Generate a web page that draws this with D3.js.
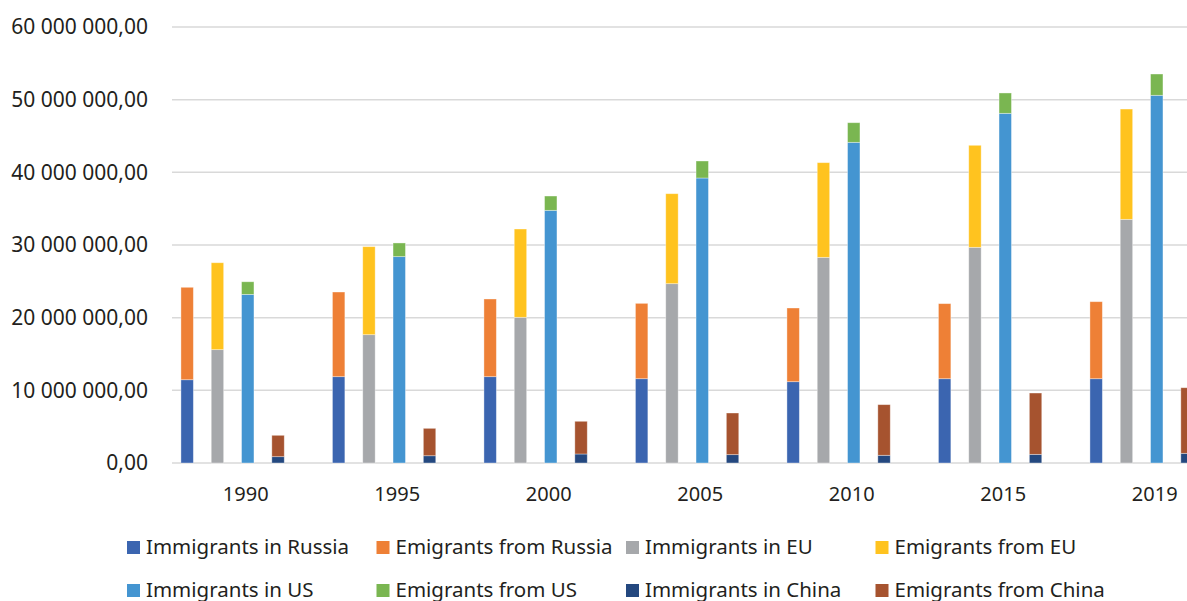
<!DOCTYPE html>
<html>
<head>
<meta charset="utf-8">
<script src="https://cdn.jsdelivr.net/npm/d3@7"></script>
<style>
  html, body { margin: 0; padding: 0; background: #fff; overflow: hidden; }
  svg { display: block; font-family: "Noto Sans", "Open Sans", sans-serif; }
</style>
</head>
<body>
<div id="chart"></div>
<script>
// values
var years = ["1990", "1995", "2000", "2005", "2010", "2015", "2019"];
var regions = ["Russia", "EU", "US", "China"];
var immigrantsRussia = [11460000, 11880000, 11880000, 11600000, 11190000, 11600000, 11600000];
var emigrantsRussia  = [12720000, 11650000, 10690000, 10370000, 10140000, 10330000, 10600000];
var immigrantsEU     = [15600000, 17660000, 20050000, 24680000, 28300000, 29680000, 33530000];
var emigrantsEU      = [11960000, 12110000, 12150000, 12380000, 13030000, 14040000, 15180000];
var immigrantsUS     = [23200000, 28400000, 34770000, 39220000, 44130000, 48120000, 50600000];
var emigrantsUS      = [1740000, 1880000, 1970000, 2340000, 2700000, 2800000, 2930000];
var immigrantsChina  = [870000, 1000000, 1240000, 1150000, 1060000, 1190000, 1330000];
var emigrantsChina   = [2940000, 3770000, 4500000, 5730000, 6970000, 8440000, 9030000];
var yTicks = [0, 10000000, 20000000, 30000000, 40000000, 50000000, 60000000];

var series = [
  {name: "Immigrants in Russia", region: "Russia", part: 0, values: immigrantsRussia, color: "#3b65b0"},
  {name: "Emigrants from Russia", region: "Russia", part: 1, values: emigrantsRussia, color: "#ee8036"},
  {name: "Immigrants in EU", region: "EU", part: 0, values: immigrantsEU, color: "#a6a8ab"},
  {name: "Emigrants from EU", region: "EU", part: 1, values: emigrantsEU, color: "#ffc31f"},
  {name: "Immigrants in US", region: "US", part: 0, values: immigrantsUS, color: "#4495d1"},
  {name: "Emigrants from US", region: "US", part: 1, values: emigrantsUS, color: "#7ab651"},
  {name: "Immigrants in China", region: "China", part: 0, values: immigrantsChina, color: "#24487f"},
  {name: "Emigrants from China", region: "China", part: 1, values: emigrantsChina, color: "#a6532f"}
];

var W = 1187, H = 601;
var svg = d3.select("#chart").append("svg").attr("width", W).attr("height", H);

var plotLeft = 172, step = 151.5;
var y = d3.scaleLinear().domain([0, 60000000]).range([463, 27]);
var x0 = d3.scaleBand().domain(years).range([plotLeft, plotLeft + step * years.length]);
// Excel leaves an empty fifth slot in each group
var x1 = d3.scaleBand().domain(regions.concat(["_"])).range([0, x0.bandwidth()])
  .paddingInner(0.59).paddingOuter(0.295);

var loc = d3.formatLocale({decimal: ",", thousands: " ", grouping: [3], currency: ["", ""]});
var fmt = loc.format(",.2f");

// grid
svg.append("g").selectAll("line").data(yTicks).enter().append("line")
  .attr("x1", plotLeft).attr("x2", W)
  .attr("y1", function(d) { return y(d); }).attr("y2", function(d) { return y(d); })
  .attr("stroke", "#d9d9d9").attr("stroke-width", 1.5);

// y labels
svg.append("g").selectAll("text").data(yTicks).enter().append("text")
  .attr("x", 148).attr("y", function(d) { return y(d); })
  .attr("dy", "0.35em").attr("text-anchor", "end")
  .attr("font-size", 21).attr("fill", "#231f20")
  .text(function(d) { return fmt(d); });

// bars
series.forEach(function(s) {
  var base = s.part === 0 ? null : series.filter(function(o) { return o.region === s.region && o.part === 0; })[0];
  svg.append("g").selectAll("rect").data(years).enter().append("rect")
    .attr("x", function(d) { return x0(d) + x1(s.region); })
    .attr("width", x1.bandwidth())
    .attr("y", function(d, i) {
      var b = base ? base.values[i] : 0;
      return y(b + s.values[i]);
    })
    .attr("height", function(d, i) {
      var b = base ? base.values[i] : 0;
      return y(b) - y(b + s.values[i]);
    })
    .attr("fill", s.color)
    .attr("stroke", "#fff").attr("stroke-opacity", 0.45).attr("stroke-width", 0.8);
});

// x labels
svg.append("g").selectAll("text").data(years).enter().append("text")
  .attr("x", function(d) { return x0(d) + x0.bandwidth() / 2 - 2; })
  .attr("y", 501).attr("text-anchor", "middle")
  .attr("font-size", 20).attr("fill", "#231f20")
  .text(function(d) { return d; });

// legend (second row sits at the bottom edge, as in the original)
var legend = svg.append("g").selectAll("g").data(series).enter().append("g")
  .attr("transform", function(d, i) {
    return "translate(" + (127 + (i % 4) * 249.5) + "," + (541 + Math.floor(i / 4) * 43) + ")";
  });
legend.append("rect").attr("width", 13).attr("height", 13)
  .attr("fill", function(d) { return d.color; });
legend.append("text").attr("x", 19).attr("y", 13)
  .attr("font-size", 20.5).attr("fill", "#231f20")
  .text(function(d) { return d.name; });
</script>
</body>
</html>
